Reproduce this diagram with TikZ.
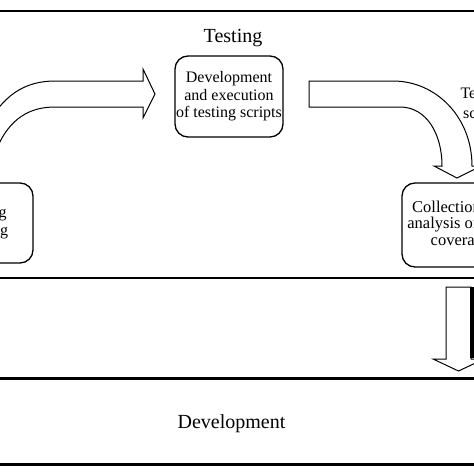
\documentclass[tikz,border=0pt]{standalone}
\usepackage{fontspec}
\setmainfont{Liberation Serif}
\begin{document}
\begin{tikzpicture}[x=1pt,y=-1pt,
  sepline/.style={line width=2.7pt},
  box/.style={draw,line width=1.3pt,rounded corners=13pt,align=center,inner sep=0pt},
  blockarrow/.style={draw,line width=1pt,fill=white,line join=miter},
  lbl/.style={font=\fontsize{20}{24}\selectfont,inner sep=0pt}]
\useasboundingbox (0,0) rectangle (474,474);
\clip (0,0) rectangle (474,474);
% separators
\draw[sepline] (-5,11) -- (480,11);
\draw[sepline] (-5,278) -- (480,278);
\draw[sepline] (-5,378.5) -- (480,378.5);
\draw[sepline] (-5,464.7) -- (480,464.7);
% labels
\node[lbl,anchor=base] (testing) at (233,42) {Testing};
\node[lbl,anchor=base] (development) at (231.5,428) {Development};
% boxes
\node[box,minimum width=139pt,minimum height=80pt,font=\fontsize{16}{18}\selectfont] (plan) at (-36.5,223) {Test planning\\and designing};
\node[box,minimum width=108pt,minimum height=81pt,font=\fontsize{16}{17.5}\selectfont] (exec) at (229,96.5) {Development\\and execution\\of testing scripts};
\node[box,minimum width=117pt,minimum height=84pt,font=\fontsize{16.5}{16.5}\selectfont] (collect) at (460.5,225) {Collection and\\analysis of code\\coverage};
\node[inner sep=0pt,align=center,font=\fontsize{16}{20}\selectfont] (scripts) at (484,104.5) {Testing\\scripts};
% left curved block arrow
\draw[blockarrow] (-15,130) .. controls (2,95) and (25,81) .. (55,81) -- (143,81) -- (143,69) -- (155,94) -- (143,118) -- (143,107) -- (55,107) .. controls (30,107) and (10,118) .. (-3,148) -- (-30,160) -- cycle;
% right curved block arrow
\draw[blockarrow] (309,81) -- (393,81) .. controls (436,81) and (472,117) .. (472,166) -- (481,166) -- (457,178) -- (434,166) -- (442,166) .. controls (442,133) and (426,107) .. (400,107) -- (309,107) -- cycle;
% down block arrow
\draw[blockarrow] (446,287) -- (471,287) -- (471,359) -- (484,359) -- (458.5,371) -- (433,359) -- (446,359) -- cycle;
\fill (470,287) rectangle (476,358);
\end{tikzpicture}
\end{document}
